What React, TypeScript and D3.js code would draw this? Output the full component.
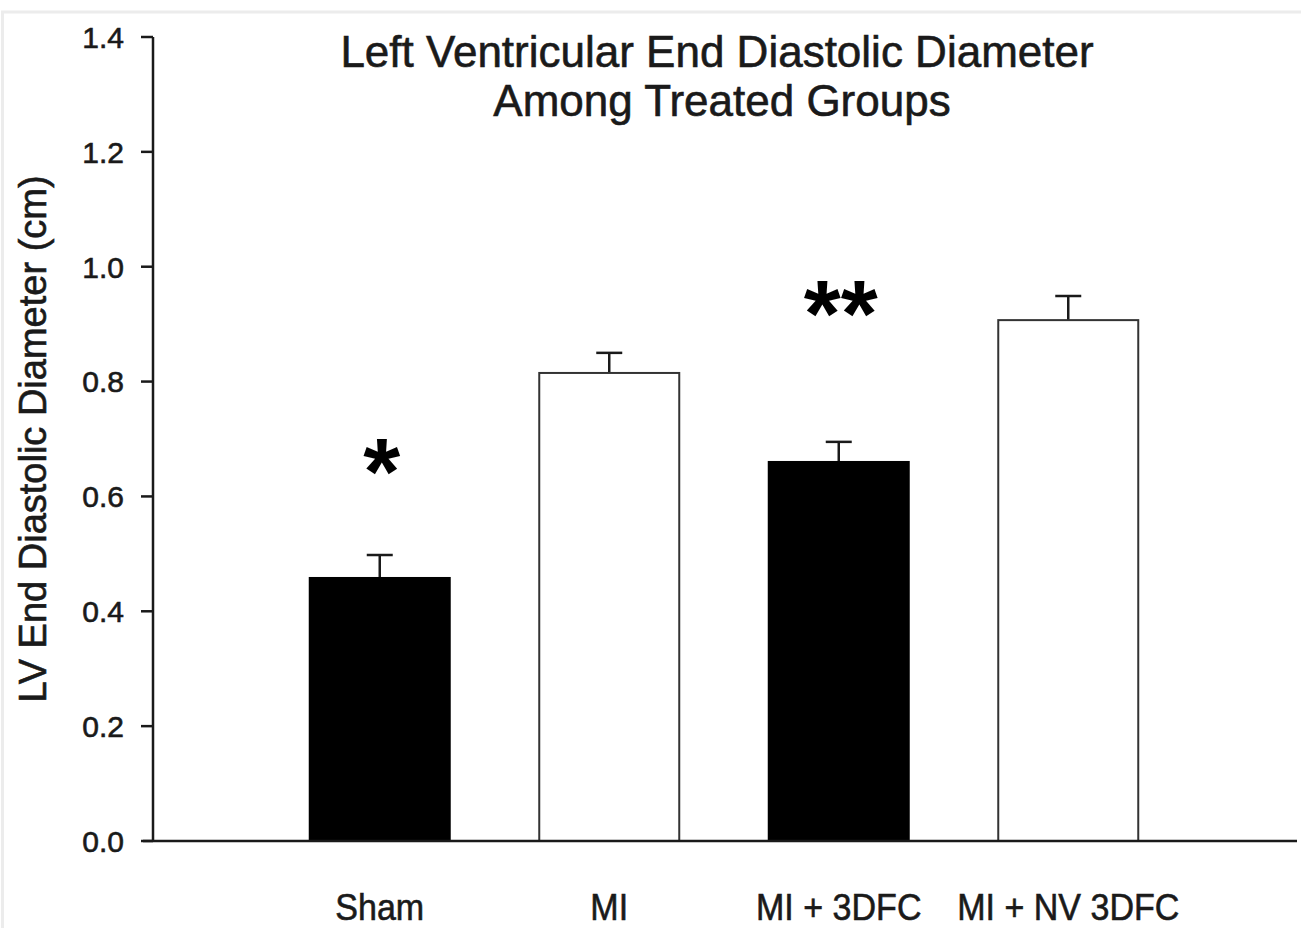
import React from 'react'
import * as d3 from 'd3'

const FONT = '"Liberation Sans", Arial, Helvetica, sans-serif'
const INK = '#1a1a1a'

const groups = ['Sham', 'MI', 'MI + 3DFC', 'MI + NV 3DFC']
const means = [0.458, 0.815, 0.66, 0.907]
const sems = [0.04, 0.035, 0.035, 0.042]
const fills = ['#000000', '#ffffff', '#000000', '#ffffff']
const marks = ['*', '', '**', '']
const markLevels = [0.667, 0, 0.942, 0]
const yTicks = [0, 0.2, 0.4, 0.6, 0.8, 1.0, 1.2, 1.4]

class App extends React.Component<{ width?: number; height?: number }> {
  static defaultProps = {
    width: 1301,
    height: 928
  }

  render() {
    const { width, height } = this.props as { width: number; height: number }

    const left = 153
    const right = 1295
    const top = 37
    const bottom = 841

    const y = d3.scaleLinear().domain([0, 1.4]).range([bottom, top])
    const x = d3.scaleBand<string>()
                .domain(groups)
                .range([left, right])
                .paddingInner(0.39)
                .paddingOuter(0.683)

    const fmt = d3.format('.1f')
    const bw = x.bandwidth()
    const capHalf = 13

    // scanned text looks a little heavier than plain Arial
    const heavy = { stroke: INK, strokeWidth: 0.6 }

    return (
      <svg
        width={width}
        height={height}
        style={{ position: 'absolute', left: 0, top: 0, background: '#fff' }}
        fontFamily={FONT}
      >
        {/* faint frame of the scanned figure */}
        <rect x="2.5" y="12" width={width + 20} height={height + 20}
              fill="none" stroke="#ececec" strokeWidth="3" />

        {/* title */}
        <text x="717" y="67" textAnchor="middle" fontSize="44" fill={INK} {...heavy}>
          Left Ventricular End Diastolic Diameter
        </text>
        <text x="722" y="116" textAnchor="middle" fontSize="44" fill={INK} {...heavy}>
          Among Treated Groups
        </text>

        {/* bars */}
        {groups.map((g, i) => {
          const x0 = x(g) as number
          const cx = x0 + bw / 2
          const yTop = y(means[i])
          const yErr = y(means[i] + sems[i])
          return (
            <g key={g}>
              <line x1={cx} x2={cx} y1={yTop} y2={yErr} stroke={INK} strokeWidth="2.5" />
              <line x1={cx - capHalf} x2={cx + capHalf} y1={yErr} y2={yErr}
                    stroke={INK} strokeWidth="2.5" />
              <rect
                x={x0}
                y={yTop}
                width={bw}
                height={bottom - yTop}
                fill={fills[i]}
                stroke={fills[i] === '#000000' ? '#000' : '#333'}
                strokeWidth="2"
              />
              {marks[i] && (
                <text
                  x={cx + 2}
                  y={y(markLevels[i]) + 46}
                  textAnchor="middle"
                  fontSize="95"
                  fontWeight="bold"
                  fill="#000"
                >
                  {marks[i]}
                </text>
              )}
              <text
                transform={`translate(${cx},920) scale(0.92,1)`}
                textAnchor="middle"
                fontSize="37"
                fill={INK}
                {...heavy}
              >
                {g}
              </text>
            </g>
          )
        })}

        {/* y axis */}
        <line x1={left} x2={left} y1={top} y2={bottom} stroke={INK} strokeWidth="2.5" />
        {yTicks.map(t => (
          <g key={t} transform={`translate(0,${y(t)})`}>
            <line x1={left - 12} x2={left} stroke={INK} strokeWidth="2.5" />
            <text x={124} dy="0.36em" textAnchor="end" fontSize="30" fill={INK} {...heavy}>
              {fmt(t)}
            </text>
          </g>
        ))}

        {/* x axis */}
        <line x1={left - 10} x2={1297} y1={bottom} y2={bottom} stroke={INK} strokeWidth="2.5" />

        {/* y axis title */}
        <text
          transform="translate(46,439) rotate(-90)"
          textAnchor="middle"
          fontSize="38"
          fill={INK}
          {...heavy}
        >
          LV End Diastolic Diameter (cm)
        </text>
      </svg>
    )
  }
}

export default App
